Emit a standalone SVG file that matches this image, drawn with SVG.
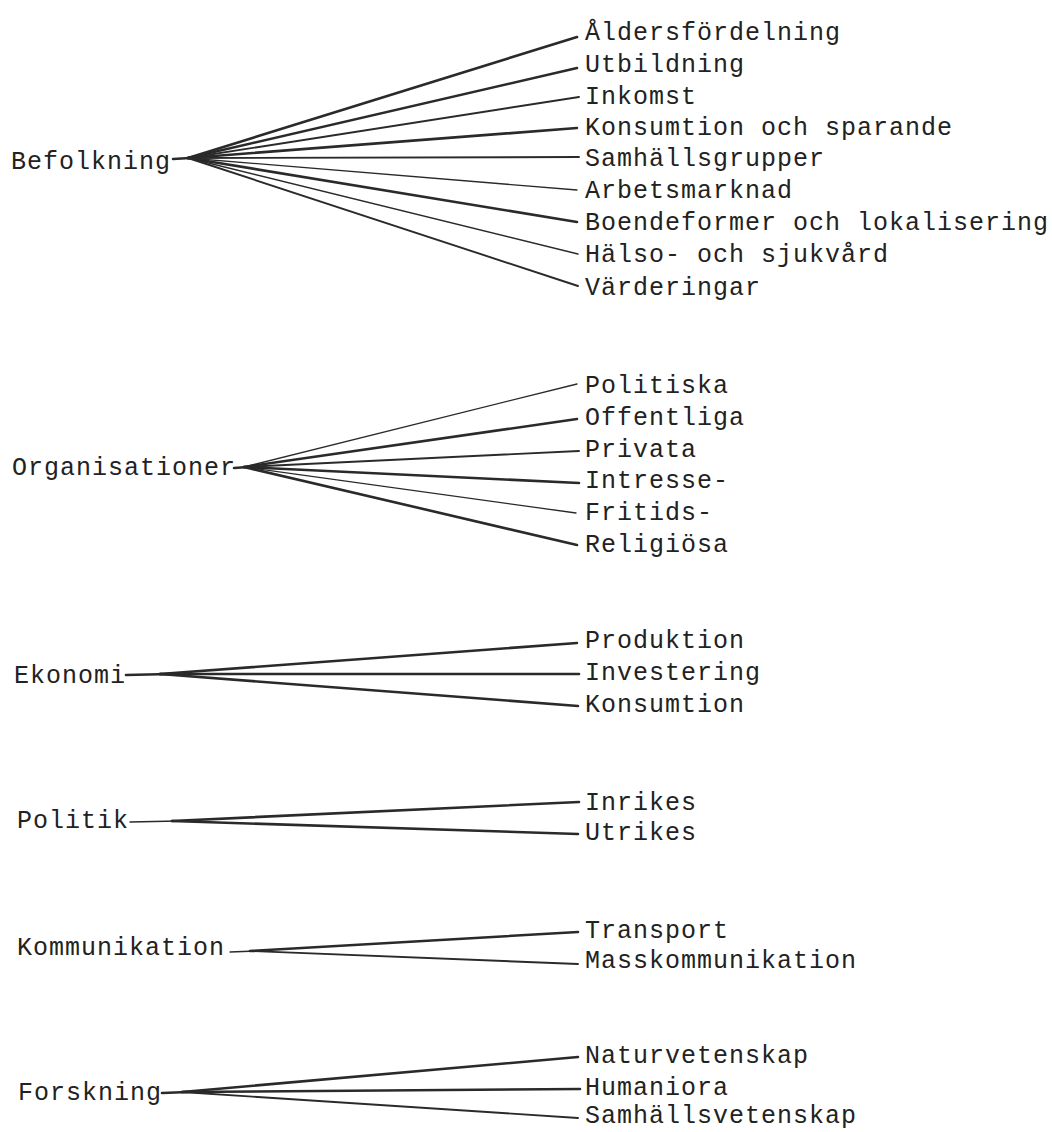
<svg xmlns="http://www.w3.org/2000/svg" width="1052" height="1132" viewBox="0 0 1052 1132">
<style>
text{font-family:"Liberation Mono","DejaVu Sans Mono",monospace;font-size:25px;letter-spacing:1px;fill:#222}
.c line{stroke:#2a2a2a;stroke-linecap:round}
.t{stroke-width:1.3}
.m{stroke-width:1.9}
.k{stroke-width:2.6}
</style>
<rect width="1052" height="1132" fill="#fff"/>
<g id="connectors" class="c">
<line class="k" x1="173" y1="159" x2="190" y2="158"/>
<line class="k" x1="188" y1="158" x2="577" y2="37"/>
<line class="k" x1="188" y1="158" x2="577" y2="68"/>
<line class="m" x1="188" y1="158" x2="579" y2="97"/>
<line class="k" x1="188" y1="158" x2="577" y2="128"/>
<line class="m" x1="188" y1="158" x2="579" y2="157"/>
<line class="t" x1="188" y1="158" x2="577" y2="190"/>
<line class="k" x1="188" y1="158" x2="577" y2="222"/>
<line class="t" x1="188" y1="158" x2="578" y2="254"/>
<line class="m" x1="188" y1="158" x2="578" y2="286"/>
<line class="k" x1="234" y1="468" x2="248" y2="467"/>
<line class="t" x1="244" y1="467" x2="577" y2="384"/>
<line class="k" x1="244" y1="467" x2="577" y2="419"/>
<line class="m" x1="244" y1="467" x2="579" y2="451"/>
<line class="k" x1="244" y1="467" x2="579" y2="483"/>
<line class="t" x1="244" y1="467" x2="576" y2="513"/>
<line class="k" x1="244" y1="467" x2="577" y2="545"/>
<line class="k" x1="126" y1="675" x2="170" y2="674"/>
<line class="k" x1="160" y1="674" x2="577" y2="643"/>
<line class="k" x1="160" y1="674" x2="579" y2="674"/>
<line class="k" x1="160" y1="674" x2="578" y2="706"/>
<line class="t" x1="130" y1="822" x2="178" y2="821"/>
<line class="k" x1="172" y1="821" x2="579" y2="802"/>
<line class="k" x1="172" y1="821" x2="578" y2="834"/>
<line class="t" x1="230" y1="952" x2="256" y2="951"/>
<line class="k" x1="250" y1="951" x2="578" y2="932"/>
<line class="m" x1="250" y1="951" x2="578" y2="964"/>
<line class="k" x1="162" y1="1093" x2="188" y2="1092"/>
<line class="k" x1="182" y1="1092" x2="578" y2="1057"/>
<line class="k" x1="182" y1="1092" x2="580" y2="1089"/>
<line class="m" x1="182" y1="1092" x2="578" y2="1118"/>
</g>
<g id="befolkning">
<text x="11" y="169">Befolkning</text>
<text x="585" y="40">Åldersfördelning</text>
<text x="585" y="72">Utbildning</text>
<text x="585" y="104">Inkomst</text>
<text x="585" y="135">Konsumtion och sparande</text>
<text x="585" y="166">Samhällsgrupper</text>
<text x="585" y="198">Arbetsmarknad</text>
<text x="585" y="230">Boendeformer och lokalisering</text>
<text x="585" y="262">Hälso- och sjukvård</text>
<text x="585" y="295">Värderingar</text>
</g>
<g id="organisationer">
<text x="12" y="475">Organisationer</text>
<text x="585" y="393">Politiska</text>
<text x="585" y="425">Offentliga</text>
<text x="585" y="457">Privata</text>
<text x="585" y="488">Intresse-</text>
<text x="585" y="520">Fritids-</text>
<text x="585" y="552">Religiösa</text>
</g>
<g id="ekonomi">
<text x="14" y="683">Ekonomi</text>
<text x="585" y="648">Produktion</text>
<text x="585" y="680">Investering</text>
<text x="585" y="712">Konsumtion</text>
</g>
<g id="politik">
<text x="17" y="828">Politik</text>
<text x="585" y="810">Inrikes</text>
<text x="585" y="840">Utrikes</text>
</g>
<g id="kommunikation">
<text x="17" y="955">Kommunikation</text>
<text x="585" y="938">Transport</text>
<text x="585" y="968">Masskommunikation</text>
</g>
<g id="forskning">
<text x="18" y="1100">Forskning</text>
<text x="585" y="1063">Naturvetenskap</text>
<text x="585" y="1095">Humaniora</text>
<text x="585" y="1123">Samhällsvetenskap</text>
</g>
</svg>
